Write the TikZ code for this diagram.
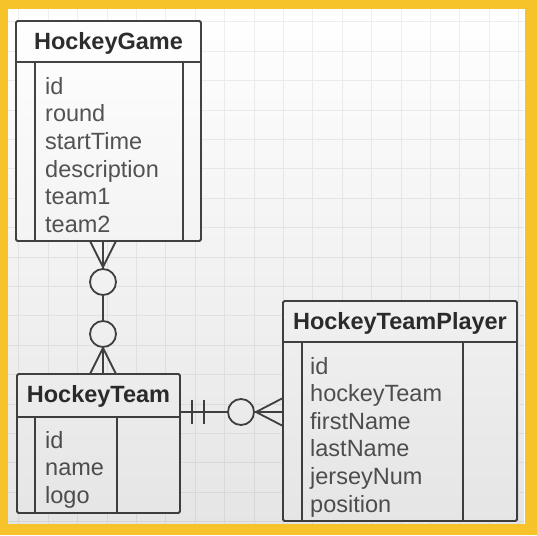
\documentclass[tikz,border=0pt]{standalone}
\usepackage{fontspec}
\setmainfont{Liberation Sans}
\usetikzlibrary{fadings}
\tikzfading[name=fadeup, top color=transparent!100, middle color=transparent!100, bottom color=transparent!0]
\definecolor{frameY}{HTML}{F7C32B}
\definecolor{lineC}{HTML}{444444}
\definecolor{txtC}{HTML}{555555}
\definecolor{hdrC}{HTML}{2E2E2E}
\definecolor{gridC}{HTML}{EEF0F0}
\begin{document}
\begin{tikzpicture}[x=1pt,y=-1pt,
  box/.style={draw=lineC, line width=1.8pt, fill=white, rounded corners=1.5pt, outer sep=0pt, inner sep=0pt},
  part/.style={draw=lineC, line width=1.8pt},
  hdr/.style={font=\fontsize{23.5}{28}\selectfont\bfseries, text=hdrC, anchor=base, inner sep=0pt},
  attr/.style={font=\fontsize{23.5}{28}\selectfont, text=txtC, anchor=base west, inner sep=0pt},
  conn/.style={draw=lineC, line width=1.8pt},
  ring/.style={draw=lineC, line width=1.8pt, fill=white, circle, minimum size=26pt, inner sep=0pt, outer sep=0pt}]
\useasboundingbox (0,0) rectangle (537,535);
% frame and grid
\fill[frameY] (0,0) rectangle (537,535);
\fill[white] (8,9) rectangle (525,524);
\begin{scope}
  \clip (8,9) rectangle (525,524);
  \foreach \i in {0,...,17} {
    \draw[gridC, line width=0.7pt] ({18.7+29.4*\i},9) -- ({18.7+29.4*\i},524);
    \draw[gridC, line width=0.7pt] (8,{21.7+29.4*\i}) -- (525,{21.7+29.4*\i});
  }
\end{scope}

% HockeyGame
\node[box, minimum width=185pt, minimum height=220pt, anchor=north west] (game) at (16,21) {};
\draw[part] ([yshift=-41pt]game.north west) -- ([yshift=-41pt]game.north east);
\draw[part] ([xshift=19pt,yshift=-41pt]game.north west) -- ([xshift=19pt]game.south west);
\draw[part] ([xshift=-18pt,yshift=-41pt]game.north east) -- ([xshift=-18pt]game.south east);
\node[hdr] (gameT) at (108.5,49) {HockeyGame};
\node[attr] (g1) at (45,94) {id};
\node[attr] (g2) at (45,121.7) {round};
\node[attr] (g3) at (45,149.4) {startTime};
\node[attr] (g4) at (45,177.1) {description};
\node[attr] (g5) at (45,204.8) {team1};
\node[attr] (g6) at (45,232.5) {team2};

% HockeyTeam
\node[box, minimum width=163pt, minimum height=139pt, anchor=north west] (team) at (17,374) {};
\draw[part] ([yshift=-43pt]team.north west) -- ([yshift=-43pt]team.north east);
\draw[part] ([xshift=18pt,yshift=-43pt]team.north west) -- ([xshift=18pt]team.south west);
\draw[part] ([xshift=-63pt,yshift=-43pt]team.north east) -- ([xshift=-63pt]team.south east);
\node[hdr] (teamT) at (98.5,402) {HockeyTeam};
\node[attr] (t1) at (45,448) {id};
\node[attr] (t2) at (45,475.5) {name};
\node[attr] (t3) at (45,503) {logo};

% HockeyTeamPlayer
\node[box, minimum width=234pt, minimum height=220pt, anchor=north west] (player) at (283,301) {};
\draw[part] ([yshift=-41pt]player.north west) -- ([yshift=-41pt]player.north east);
\draw[part] ([xshift=19pt,yshift=-41pt]player.north west) -- ([xshift=19pt]player.south west);
\draw[part] ([xshift=-54pt,yshift=-41pt]player.north east) -- ([xshift=-54pt]player.south east);
\node[hdr] (playerT) at (400,329) {HockeyTeamPlayer};
\node[attr] (p1) at (310,374) {id};
\node[attr] (p2) at (310,401.6) {hockeyTeam};
\node[attr] (p3) at (310,429.2) {firstName};
\node[attr] (p4) at (310,456.8) {lastName};
\node[attr] (p5) at (310,484.4) {jerseyNum};
\node[attr] (p6) at (310,512) {position};

% connector HockeyGame -- HockeyTeam
\coordinate (c1) at (103,0);
\coordinate (f1) at (103,267);
\coordinate (f2) at (103,348);
\node[ring] (r1) at (103,282) {};
\node[ring] (r2) at (103,334) {};
\draw[conn] (game.south -| c1) -- (r1);
\draw[conn] (r1) -- (r2);
\draw[conn] (r2) -- (team.north -| c1);
\draw[conn] ([xshift=-13pt]game.south -| c1) -- (f1) -- ([xshift=13pt]game.south -| c1);
\draw[conn] ([xshift=-13pt]team.north -| c1) -- (f2) -- ([xshift=13pt]team.north -| c1);

% connector HockeyTeam -- HockeyTeamPlayer
\coordinate (c2) at (0,412);
\coordinate (f3) at (256,412);
\node[ring] (r3) at (241,412) {};
\draw[conn] (team.east |- c2) -- (r3);
\draw[conn] (r3) -- (player.west |- c2);
\draw[conn] (192,400) -- (192,424);
\draw[conn] (204,400) -- (204,424);
\draw[conn] ([yshift=14pt]player.west |- c2) -- (f3) -- ([yshift=-14pt]player.west |- c2);

% soft shading towards the bottom
\fill[black, opacity=0.10, path fading=fadeup] (8,9) rectangle (525,524);
\end{tikzpicture}
\end{document}
